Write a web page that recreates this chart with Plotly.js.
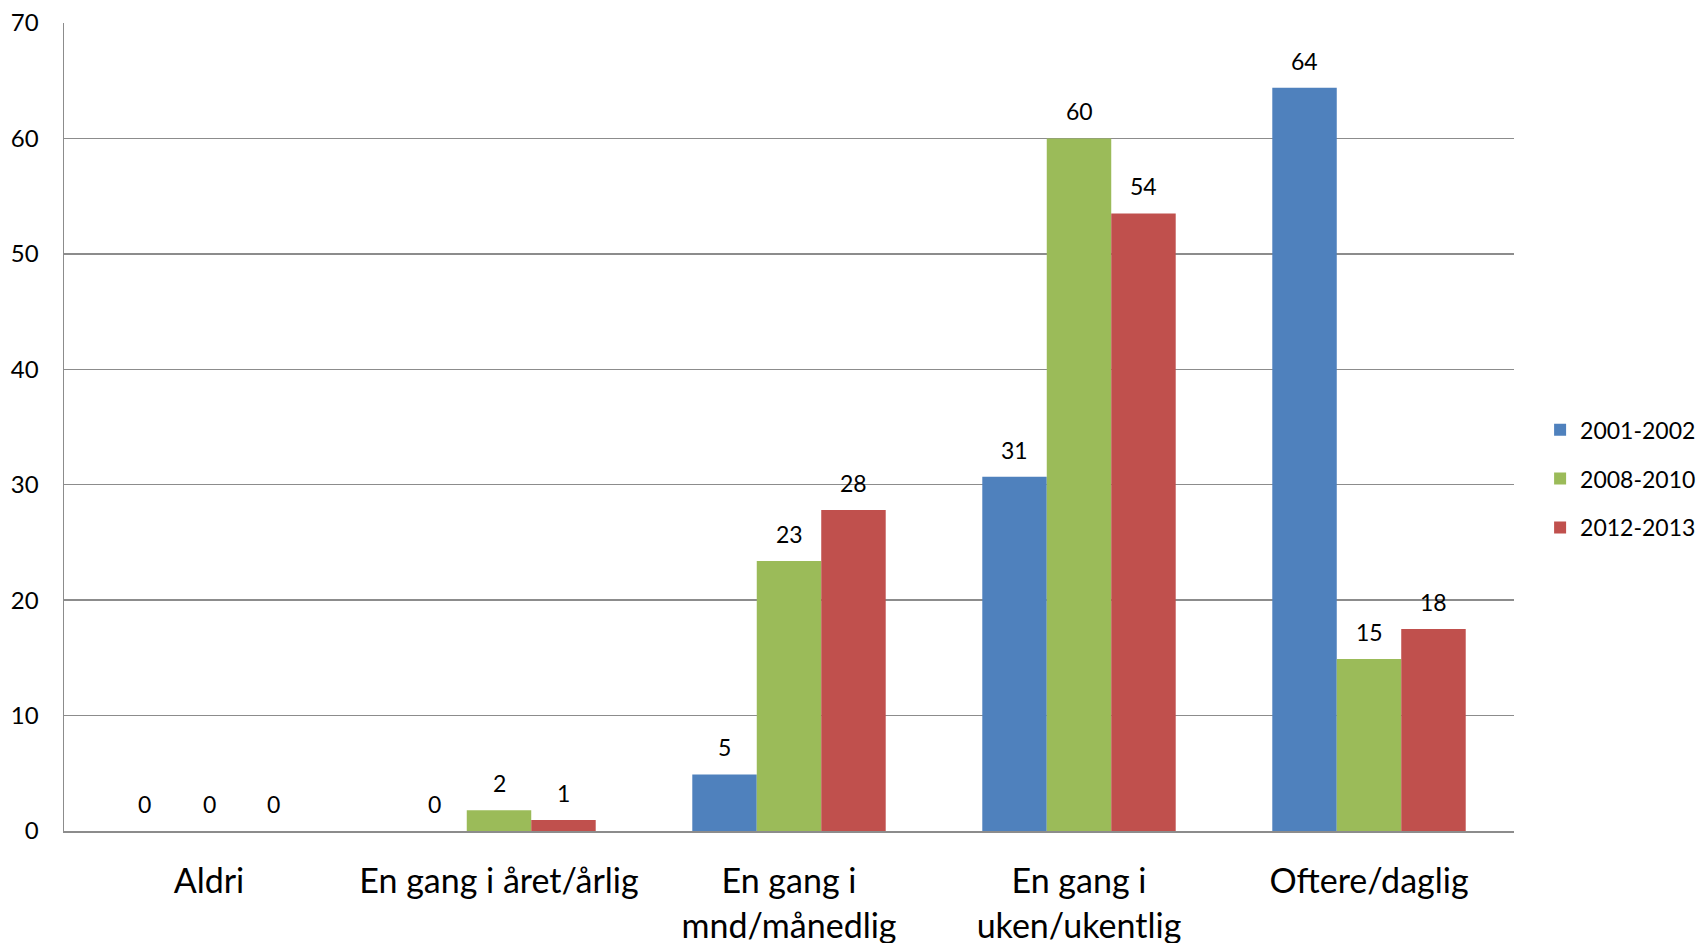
<!DOCTYPE html>
<html>
<head>
<meta charset="utf-8">
<script src="https://cdn.plot.ly/plotly-3.0.1.min.js"></script>
<style>html,body{margin:0;padding:0;background:#fff;}#chart{width:1700px;height:943px;}</style>
</head>
<body>
<div id="chart"></div>
<script>
const categories = ["Aldri", "En gang i året/årlig", "En gang i<br>mnd/månedlig", "En gang i<br>uken/ukentlig", "Oftere/daglig"];
const seriesNames = ["2001-2002", "2008-2010", "2012-2013"];
const values2001 = [0, 0, 4.9, 30.7, 64.4];
const values2008 = [0, 1.8, 23.4, 60.0, 14.9];
const values2012 = [0, 0.95, 27.8, 53.5, 17.5];
const seriesColors = ["#4F81BD", "#9BBB59", "#C0504D"];

const allValues = [values2001, values2008, values2012];
const FONT = "Lato, 'Open Sans', sans-serif";
const bargap = 0.333;
const barW = (1 - bargap) / 3;

const traces = allValues.map((vals, j) => ({
  type: "bar",
  name: seriesNames[j],
  x: categories,
  y: vals,
  marker: { color: seriesColors[j], line: { width: 0 } },
  legendgroup: "g" + j,
  hoverinfo: "skip"
}));

const annotations = [];
allValues.forEach((vals, j) => {
  vals.forEach((v, i) => {
    annotations.push({
      xref: "x", yref: "y",
      x: i + (j - 1) * barW,
      y: v,
      text: String(Math.round(v)),
      showarrow: false,
      yanchor: "middle",
      yshift: 27,
      font: { family: FONT, size: 23, color: "#000" }
    });
  });
});

const layout = {
  width: 1700,
  height: 943,
  paper_bgcolor: "#fff",
  plot_bgcolor: "#fff",
  margin: { l: 64, r: 186, t: 23, b: 112, autoexpand: false },
  barmode: "group",
  bargap: bargap,
  bargroupgap: 0,
  font: { family: FONT, color: "#000" },
  xaxis: {
    type: "category",
    showline: true,
    linecolor: "#8c8c8c",
    linewidth: 1.5,
    showgrid: false,
    ticks: "",
    ticklabelstandoff: 20,
    tickfont: { family: FONT, size: 34, color: "#000" },
    tickangle: 0
  },
  yaxis: {
    range: [0, 70],
    dtick: 10,
    tick0: 0,
    showline: true,
    linecolor: "#8c8c8c",
    linewidth: 1.5,
    showgrid: true,
    gridcolor: "#8c8c8c",
    gridwidth: 1.3,
    zeroline: false,
    ticks: "",
    ticklabelstandoff: 19,
    tickfont: { family: FONT, size: 24, color: "#000" }
  },
  legend: {
    x: 1.018,
    xanchor: "left",
    y: 0.436,
    yanchor: "middle",
    font: { family: FONT, size: 23, color: "#000" },
    tracegroupgap: 16,
    traceorder: "grouped",
    bgcolor: "rgba(0,0,0,0)"
  },
  annotations: annotations,
  showlegend: true
};

Plotly.newPlot("chart", traces, layout, { displayModeBar: false, staticPlot: true });
</script>
</body>
</html>
